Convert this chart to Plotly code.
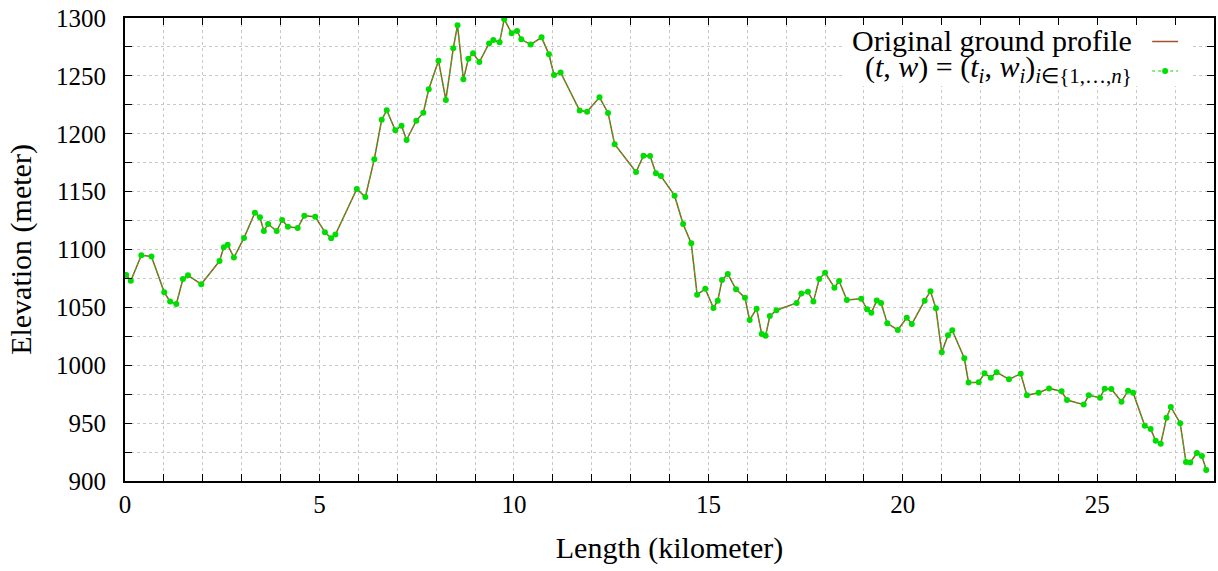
import plotly.graph_objects as go

# distance along the profile (km)
length_km = [0.03, 0.15, 0.42, 0.68, 1.01, 1.16, 1.32, 1.49, 1.62, 1.96, 2.43, 2.54, 2.64, 2.80,
             3.06, 3.34, 3.47, 3.57, 3.68, 3.90, 4.04, 4.19, 4.44, 4.61, 4.89, 5.14, 5.30, 5.41,
             5.96, 6.18, 6.41, 6.60, 6.73, 6.95, 7.11, 7.24, 7.49, 7.67, 7.81, 8.06, 8.25, 8.44,
             8.55, 8.70, 8.83, 8.95, 9.11, 9.36, 9.47, 9.63, 9.75, 9.94, 10.08, 10.19, 10.43,
             10.71, 10.90, 11.03, 11.20, 11.69, 11.88, 12.20, 12.42, 12.59, 13.14, 13.33, 13.50,
             13.65, 13.78, 14.13, 14.35, 14.56, 14.71, 14.92, 15.13, 15.24, 15.35, 15.50, 15.71,
             15.94, 16.06, 16.24, 16.37, 16.47, 16.58, 16.75, 17.27, 17.39, 17.56, 17.70, 17.85,
             18.00, 18.24, 18.36, 18.56, 18.93, 19.08, 19.19, 19.33, 19.44, 19.60, 19.87, 20.10,
             20.23, 20.56, 20.71, 20.85, 21.00, 21.16, 21.27, 21.58, 21.69, 21.95, 22.10, 22.26,
             22.41, 22.73, 23.03, 23.19, 23.49, 23.76, 24.08, 24.22, 24.65, 24.78, 25.07, 25.19,
             25.36, 25.62, 25.79, 25.92, 26.22, 26.37, 26.50, 26.63, 26.78, 26.89, 27.13, 27.28,
             27.39, 27.56, 27.69, 27.80]

# elevation (m)
elevation_m = [1078, 1073, 1095, 1094, 1063, 1055, 1053, 1074.5, 1077.7, 1070, 1090, 1102, 1104, 1093,
               1110, 1131.8, 1127.8, 1116, 1122, 1116, 1125.5, 1119.7, 1118.6, 1129.2, 1128.3, 1115, 1109.7, 1113,
               1152.3, 1145.4, 1178, 1212, 1220.3, 1203, 1207, 1194.6, 1211.3, 1218.2, 1238.4, 1263, 1229.2, 1273.8,
               1293.7, 1247, 1264.8, 1269.5, 1262, 1278, 1281, 1279, 1299, 1286.8, 1288.8, 1281.6, 1277,
               1283.3, 1268.6, 1250.8, 1253, 1220, 1219, 1231.5, 1218, 1190.9, 1167, 1181, 1180.8,
               1165.8, 1163.5, 1146.5, 1122, 1105.3, 1061, 1066, 1049.5, 1055.8, 1073.6, 1078.8, 1065.6,
               1058.4, 1039.1, 1048.9, 1027, 1025.5, 1042.5, 1047.5, 1053.8, 1062, 1063.5, 1055, 1074.5,
               1080, 1067, 1072.8, 1056.4, 1057.5, 1048.3, 1045.4, 1056, 1053.8, 1036.2, 1030.5, 1041,
               1035.6, 1055.8, 1064, 1049.2, 1011.2, 1026, 1030.2, 1006, 985, 985.3, 993, 989.3,
               994, 987.8, 992.7, 974, 976.3, 980, 977.5, 970, 966, 974, 972, 979.7,
               979.5, 968.5, 978, 976.3, 947.8, 945, 934.8, 932.2, 954.7, 964, 950, 916.4,
               916, 924.2, 921.6, 909.5]

x_ticks = [0, 5, 10, 15, 20, 25]
y_ticks = [900, 950, 1000, 1050, 1100, 1150, 1200, 1250, 1300]

legend_names = ["Original ground profile",
                "(<i>t</i>, <i>w</i>) = (<i>t<sub>i</sub></i>, <i>w<sub>i</sub></i>)<sub><i>i</i>∈{1,…,<i>n</i>}</sub>"]

BROWN = "#a0522d"
GREEN = "#00dd00"
FONT = "Liberation Serif"

fig = go.Figure()
fig.add_trace(go.Scatter(x=length_km, y=elevation_m, mode="lines",
                         line=dict(color=BROWN, width=1.5), name=legend_names[0],
                         showlegend=False))
fig.add_trace(go.Scatter(x=length_km, y=elevation_m, mode="lines+markers",
                         line=dict(color=GREEN, width=1, dash="dot"),
                         marker=dict(color=GREEN, size=6), name=legend_names[1],
                         showlegend=False))

axis_common = dict(showline=True, linecolor="black", linewidth=2, mirror="ticks",
                   ticks="inside", ticklen=7, tickwidth=1, tickcolor="black",
                   showgrid=True, gridcolor="#c8c8c8", griddash="dot", gridwidth=1,
                   zeroline=False, tickfont=dict(family=FONT, size=25, color="black"))

fig.update_xaxes(range=[0, 28], tickvals=x_ticks,
                 minor=dict(dtick=1, tick0=0, ticks="inside", ticklen=7, tickcolor="black",
                            showgrid=True, gridcolor="#c8c8c8", griddash="dot"),
                 title=dict(text="Length (kilometer)", font=dict(family=FONT, size=30, color="black"),
                            standoff=20),
                 **axis_common)
fig.update_yaxes(range=[900, 1300], tickvals=y_ticks, ticklabelstandoff=12,
                 minor=dict(dtick=25, tick0=900, ticks="inside", ticklen=7, tickcolor="black",
                            showgrid=True, gridcolor="#c8c8c8", griddash="dot"),
                 title=dict(text="Elevation (meter)", font=dict(family=FONT, size=30, color="black"),
                            standoff=16),
                 **axis_common)

# legend block (text left of key, as in the reference)
def px_to_x(px):
    return (px - 125) / 39.0

def py_to_y(py):
    return 900 + (481 - py) / 1.1575

shapes = [
    dict(type="rect", xref="x", yref="y", x0=px_to_x(845), x1=px_to_x(1194),
         y0=py_to_y(86), y1=py_to_y(19), fillcolor="white", line=dict(width=0), layer="between"),
    dict(type="line", xref="x", yref="y", x0=px_to_x(1155), x1=px_to_x(1181),
         y0=py_to_y(41.5), y1=py_to_y(41.5), line=dict(color=BROWN, width=1.5), layer="above"),
    dict(type="line", xref="x", yref="y", x0=px_to_x(1155), x1=px_to_x(1181),
         y0=py_to_y(71), y1=py_to_y(71), line=dict(color=GREEN, width=1, dash="dot"), layer="above"),
    dict(type="circle", xref="x", yref="y", xsizemode="pixel", ysizemode="pixel",
         xanchor=px_to_x(1168), yanchor=py_to_y(71), x0=-3, x1=3, y0=-3, y1=3,
         fillcolor=GREEN, line=dict(width=0), layer="above"),
]
annotations = [
    dict(xref="x", yref="y", x=px_to_x(1137), y=py_to_y(40), text=legend_names[0],
         showarrow=False, xanchor="right", yanchor="middle",
         font=dict(family=FONT, size=30, color="black")),
    dict(xref="x", yref="y", x=px_to_x(1137), y=py_to_y(69), text=legend_names[1],
         showarrow=False, xanchor="right", yanchor="middle",
         font=dict(family=FONT, size=30, color="black")),
]

fig.update_layout(width=1218, height=571, margin=dict(l=125, r=2, t=18, b=90),
                  plot_bgcolor="white", paper_bgcolor="white",
                  shapes=shapes, annotations=annotations, showlegend=False)

fig.write_html("out.html", config={"displayModeBar": False},
               post_script="document.body.style.margin='0';document.body.style.overflow='hidden';")
